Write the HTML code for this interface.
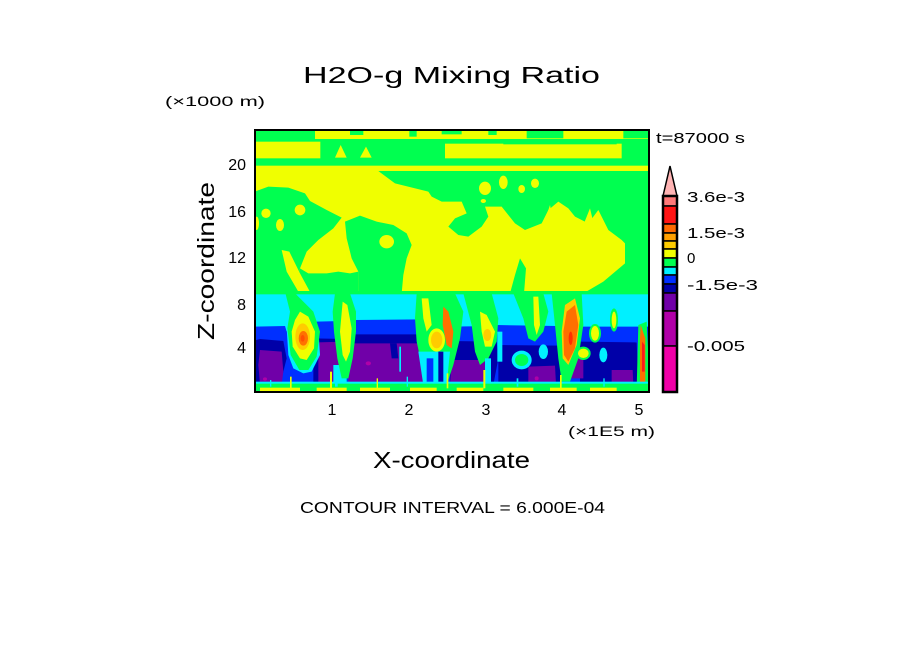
<!DOCTYPE html>
<html><head><meta charset="utf-8"><style>
html,body{margin:0;padding:0;background:#fff;width:904px;height:654px;overflow:hidden}
svg{display:block}
text{font-family:"Liberation Sans",sans-serif;fill:#000}
</style></head><body>
<svg width="904" height="654" viewBox="0 0 904 654" xmlns="http://www.w3.org/2000/svg">
<defs><clipPath id="pc"><rect x="255" y="130" width="394" height="262"/></clipPath></defs>
<g clip-path="url(#pc)"><g transform="translate(250 125) scale(0.3333333)">
<rect x="0" y="0" width="1250" height="850" fill="#00ff50"/>
<!-- top rows -->
<rect x="195" y="0" width="1060" height="42" fill="#f0ff00"/>
<g fill="#00ff50">
<rect x="300" y="0" width="40" height="30"/><rect x="478" y="0" width="22" height="35"/>
<rect x="575" y="0" width="60" height="28"/><rect x="715" y="0" width="25" height="30"/>
<rect x="830" y="0" width="110" height="40"/><rect x="1120" y="0" width="130" height="40"/>
</g>
<rect x="0" y="50" width="211" height="50" fill="#f0ff00"/>
<polygon points="255,98 272,60 290,98" fill="#f0ff00"/>
<polygon points="330,98 348,65 365,98" fill="#f0ff00"/>
<rect x="585" y="56" width="530" height="44" fill="#f0ff00"/>
<rect x="760" y="42" width="340" height="16" fill="#00ff50"/>
<!-- main yellow -->
<rect x="0" y="122" width="1250" height="383" fill="#f0ff00"/>
<polygon fill="#00ff50" points="385,138 1250,138 1250,505 1125,505 1125,355 1115,345 1075,315 1045,255 1015,295 975,275 955,250 925,230 895,255 875,295 825,315 795,295 755,245 705,245 715,275 695,305 655,335 625,330 595,305 615,280 650,265 635,230 575,230 545,215 535,200 435,175"/>
<g fill="#f0ff00">
<ellipse cx="705" cy="190" rx="18" ry="20"/><ellipse cx="760" cy="172" rx="13" ry="20"/>
<ellipse cx="815" cy="192" rx="10" ry="12"/><ellipse cx="855" cy="175" rx="12" ry="14"/>
<ellipse cx="700" cy="228" rx="8" ry="6"/>
<polygon points="880,300 900,240 912,300"/><polygon points="1000,300 1020,250 1032,300"/>
</g>
<polygon fill="#00ff50" points="0,205 55,185 115,188 165,205 180,228 230,255 275,278 250,310 205,345 170,380 150,430 140,505 0,505"/>
<polygon fill="#00ff50" points="140,505 150,430 175,445 230,445 265,440 300,445 325,440 325,505"/>
<polygon fill="#00ff50" points="285,290 330,272 380,290 430,300 470,325 485,360 470,400 460,450 455,505 325,505 325,440 305,400 290,340"/>
<g fill="#f0ff00">
<ellipse cx="410" cy="350" rx="22" ry="20"/>
<ellipse cx="48" cy="265" rx="14" ry="14"/><ellipse cx="150" cy="255" rx="16" ry="16"/>
<ellipse cx="90" cy="300" rx="12" ry="18"/><ellipse cx="20" cy="295" rx="7" ry="20"/>
<polygon points="95,375 118,380 150,445 185,510 200,560 178,560 145,500 110,440"/>
</g>
<polygon fill="#00ff50" points="780,505 795,450 810,400 828,430 822,505"/>
<polygon fill="#00ff50" points="1125,415 1060,470 1000,505 1125,505"/>
<rect x="0" y="498" width="1250" height="14" fill="#00ff50"/>
<rect x="0" y="508" width="1250" height="110" fill="#00f0ff"/>
<!-- blue layers -->
<polygon fill="#0030ff" points="0,605 105,603 110,620 195,610 200,590 275,588 285,610 310,600 315,585 515,583 525,600 600,605 735,603 740,600 920,603 990,605 1250,605 1250,785 0,785"/>
<g fill="#0000a8">
<polygon points="0,650 30,642 100,648 110,700 90,780 0,780"/>
<polygon points="190,640 285,642 290,665 285,780 190,780"/>
<polygon points="310,628 520,628 535,660 530,780 310,780"/>
<polygon points="600,648 740,650 745,700 730,780 600,780"/>
<polygon points="745,660 930,662 935,780 745,780"/>
<polygon points="990,650 1160,652 1165,780 990,780"/>
</g>
<g fill="#7000a8">
<polygon points="30,675 95,680 100,740 95,778 30,778 25,720"/>
<polygon points="205,652 285,650 288,778 205,778"/>
<polygon points="295,655 515,655 520,778 295,778"/>
<polygon points="605,705 715,705 720,778 600,778"/>
<polygon points="835,725 915,722 918,778 835,778"/>
<polygon points="1085,735 1148,735 1150,778 1085,778"/>
<polygon points="960,700 1000,700 1000,760 960,760"/>
</g>
<polygon fill="#0000a8" points="420,655 440,655 445,700 425,700"/>
<rect x="448" y="665" width="5" height="75" fill="#00f0ff"/>
<g fill="#b000a8"><ellipse cx="355" cy="715" rx="8" ry="6"/><ellipse cx="45" cy="762" rx="6" ry="5"/><ellipse cx="860" cy="760" rx="6" ry="6"/></g>
<!-- plumes -->
<polygon fill="#00f0ff" points="110,610 205,610 210,690 185,740 160,745 130,730 115,690"/>
<polygon fill="#00ff50" points="105,500 130,500 190,560 210,620 200,695 175,735 148,735 122,690 112,610 120,560"/>
<polygon fill="#f0ff00" points="150,560 175,575 195,620 192,670 170,705 150,700 128,665 125,620 135,585"/>
<ellipse cx="158" cy="635" rx="22" ry="40" fill="#ffcc00"/>
<ellipse cx="160" cy="640" rx="14" ry="22" fill="#ff7000"/>
<ellipse cx="158" cy="640" rx="6" ry="10" fill="#ff5000"/>

<rect x="250" y="720" width="40" height="55" fill="#00f0ff"/>
<polygon fill="#00ff50" points="255,505 300,505 318,560 318,620 308,700 295,760 275,760 262,700 252,620 248,560"/>
<polygon fill="#f0ff00" points="278,530 292,540 305,610 300,680 288,710 278,690 270,620"/>

<polygon fill="#00ff50" points="500,505 615,505 640,560 630,640 610,720 590,780 525,780 515,720 500,650 495,580"/>
<polygon fill="#00f0ff" points="505,680 600,680 590,780 520,780"/>
<rect x="565" y="680" width="15" height="100" fill="#0000a8"/>
<rect x="530" y="700" width="20" height="80" fill="#0030ff"/>
<polygon fill="#f0ff00" points="515,520 535,520 545,600 530,620 520,580"/>
<ellipse cx="560" cy="645" rx="25" ry="35" fill="#f0ff00"/>
<ellipse cx="560" cy="645" rx="17" ry="25" fill="#ffcc00"/>
<polygon fill="#ff7000" points="580,545 595,560 610,620 605,670 590,660 578,600"/>

<polygon fill="#00ff50" points="640,505 725,505 745,580 740,650 715,700 690,720 675,680 665,600"/>
<polygon fill="#f0ff00" points="690,560 710,570 735,620 725,665 705,665 695,620"/>
<ellipse cx="712" cy="630" rx="12" ry="18" fill="#ffcc00"/>
<rect x="705" y="700" width="18" height="80" fill="#00f0ff"/>
<rect x="742" y="620" width="15" height="90" fill="#00f0ff"/>

<polygon fill="#00ff50" points="790,505 880,505 895,560 880,620 855,650 835,640 820,580"/>
<polygon fill="#f0ff00" points="850,515 865,515 870,600 860,630 852,600"/>
<ellipse cx="815" cy="705" rx="30" ry="28" fill="#00f0ff"/>
<ellipse cx="815" cy="705" rx="20" ry="18" fill="#00ff50"/>
<ellipse cx="880" cy="680" rx="14" ry="22" fill="#00f0ff"/>

<polygon fill="#00ff50" points="905,505 995,505 1000,600 985,700 960,770 935,770 925,700 915,600"/>
<polygon fill="#ffcc00" points="945,540 975,520 990,580 980,660 955,720 938,700 935,620"/>
<polygon fill="#ff7000" points="950,560 975,540 985,600 975,670 955,710 942,690 940,620"/>
<ellipse cx="962" cy="640" rx="6" ry="20" fill="#ff3000"/>

<ellipse cx="1060" cy="690" rx="12" ry="22" fill="#00f0ff"/>
<ellipse cx="1035" cy="625" rx="18" ry="28" fill="#00ff50"/>
<ellipse cx="1035" cy="625" rx="12" ry="22" fill="#f0ff00"/>
<ellipse cx="1000" cy="685" rx="22" ry="20" fill="#00ff50"/>
<ellipse cx="1000" cy="685" rx="16" ry="14" fill="#f0ff00"/>
<ellipse cx="1092" cy="585" rx="12" ry="35" fill="#00ff50"/>
<ellipse cx="1092" cy="585" rx="7" ry="25" fill="#f0ff00"/>

<polygon fill="#00ff50" points="1165,600 1190,590 1200,790 1160,790"/>
<polygon fill="#ff7000" points="1172,600 1186,640 1186,790 1170,790 1170,640"/>
<polygon fill="#ff1a1a" points="1176,650 1184,660 1184,740 1176,740"/>
<!-- bottom stripe -->
<rect x="0" y="770" width="1250" height="8" fill="#00f0ff"/>
<rect x="0" y="776" width="1250" height="40" fill="#00ff50"/>
<g fill="#f0ff00">
<rect x="30" y="788" width="120" height="14"/><rect x="200" y="788" width="90" height="14"/>
<rect x="330" y="788" width="90" height="14"/><rect x="480" y="788" width="80" height="14"/>
<rect x="620" y="788" width="80" height="14"/><rect x="760" y="788" width="90" height="14"/>
<rect x="900" y="788" width="80" height="14"/><rect x="1020" y="788" width="80" height="14"/>
<rect x="240" y="740" width="6" height="50"/><rect x="700" y="735" width="6" height="55"/>
<rect x="590" y="745" width="5" height="45"/><rect x="120" y="755" width="5" height="35"/>
<rect x="380" y="760" width="4" height="30"/><rect x="930" y="750" width="5" height="40"/>
</g>
<g fill="#00f0ff">
<rect x="255" y="745" width="8" height="40"/><rect x="60" y="765" width="4" height="20"/>
<rect x="470" y="755" width="4" height="30"/><rect x="800" y="760" width="5" height="25"/>
<rect x="1060" y="760" width="4" height="25"/>
</g>
</g></g>
<rect x="255" y="130" width="394" height="262" fill="none" stroke="#000" stroke-width="2"/>

<!-- colorbar -->
<g stroke="#000" stroke-width="1.5">
<polygon points="663,196 670,166 677,196" fill="#ffb4b4"/>
<rect x="663" y="196" width="14" height="10" fill="#ff7878"/>
<rect x="663" y="206" width="14" height="18" fill="#ff1414"/>
<rect x="663" y="224" width="14" height="9" fill="#ff6a00"/>
<rect x="663" y="233" width="14" height="8" fill="#ffa000"/>
<rect x="663" y="241" width="14" height="8" fill="#ffcc00"/>
<rect x="663" y="249" width="14" height="9" fill="#f0ff00"/>
<rect x="663" y="258" width="14" height="9" fill="#00ff50"/>
<rect x="663" y="267" width="14" height="8" fill="#00f0ff"/>
<rect x="663" y="275" width="14" height="9" fill="#0030ff"/>
<rect x="663" y="284" width="14" height="9" fill="#0000a8"/>
<rect x="663" y="293" width="14" height="18" fill="#7000a8"/>
<rect x="663" y="311" width="14" height="35" fill="#b000a8"/>
<rect x="663" y="346" width="14" height="46" fill="#f000a8"/>
<rect x="663" y="196" width="14" height="196" fill="none" stroke-width="2.5"/>
</g>

<!-- text -->
<text x="303" y="83" font-size="23" textLength="297" lengthAdjust="spacingAndGlyphs">H2O-g Mixing Ratio</text>
<text x="165" y="106" font-size="14" textLength="100" lengthAdjust="spacingAndGlyphs">(×1000 m)</text>
<text x="656" y="143" font-size="15" textLength="89" lengthAdjust="spacingAndGlyphs">t=87000 s</text>
<g font-size="16" text-anchor="end">
<text x="246" y="170">20</text>
<text x="246" y="217">16</text>
<text x="246" y="263">12</text>
<text x="246" y="310">8</text>
<text x="246" y="353">4</text>
</g>
<g font-size="16" text-anchor="middle">
<text x="332" y="415">1</text>
<text x="409" y="415">2</text>
<text x="486" y="415">3</text>
<text x="562" y="415">4</text>
<text x="639" y="415">5</text>
</g>
<text x="568" y="436" font-size="14" textLength="87" lengthAdjust="spacingAndGlyphs">(×1E5 m)</text>
<text x="373" y="468" font-size="23" textLength="157" lengthAdjust="spacingAndGlyphs">X-coordinate</text>
<text transform="translate(214 340) rotate(-90)" x="0" y="0" font-size="23" textLength="158" lengthAdjust="spacingAndGlyphs">Z-coordinate</text>
<text x="300" y="513" font-size="16" textLength="305" lengthAdjust="spacingAndGlyphs">CONTOUR INTERVAL = 6.000E-04</text>
<g font-size="15">
<text x="687" y="202" textLength="58" lengthAdjust="spacingAndGlyphs">3.6e-3</text>
<text x="687" y="238" textLength="58" lengthAdjust="spacingAndGlyphs">1.5e-3</text>
<text x="687" y="263">0</text>
<text x="687" y="290" textLength="71" lengthAdjust="spacingAndGlyphs">-1.5e-3</text>
<text x="687" y="351" textLength="58" lengthAdjust="spacingAndGlyphs">-0.005</text>
</g>
</svg>
</body></html>
